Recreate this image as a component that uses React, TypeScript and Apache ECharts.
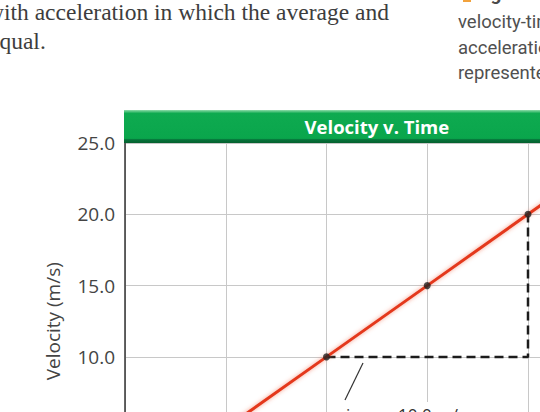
import React, { useEffect, useRef } from "react";
import * as echarts from "echarts";

// Velocity-time data: constant acceleration, v = 5.00 t
const timeS = [0, 1, 2, 3, 4, 5];
const velocityMS = [0, 5, 10, 15, 20, 25];

// Marked points on the line
const markedTime = [2, 3, 4];
const markedVelocity = [10, 15, 20];

// Rise/run triangle (run along v = 10, rise along t = 4)
const triangleTime = [2, 4, 4];
const triangleVelocity = [10, 10, 20];

// Axis settings
const yTicks = [0, 5, 10, 15, 20, 25];
const xTicks = [0, 1, 2, 3, 4, 5];

// Surrounding page text
const bodyLines = ["with acceleration in which the average and", "equal."];
const captionLines = ["velocity-time", "acceleration", "represented"];

const GRID_LEFT = 125;
const GRID_TOP = 143;
const GRID_W = 503.75;
const GRID_H = 356.5;

export default function App() {
  const ref = useRef<HTMLDivElement>(null);

  useEffect(() => {
    if (!ref.current) return;
    const chart = echarts.init(ref.current, undefined, { renderer: "svg" });

    const linePoints = timeS.map((t, i) => [t, velocityMS[i]]);
    const dots = markedTime.map((t, i) => [t, markedVelocity[i]]);
    const tri = triangleTime.map((t, i) => [t, triangleVelocity[i]]);

    const sans = "'Open Sans', 'Noto Sans', sans-serif";

    chart.setOption({
      animation: false,
      backgroundColor: "#ffffff",
      grid: {
        left: GRID_LEFT,
        top: GRID_TOP,
        width: GRID_W,
        height: GRID_H,
        containLabel: false,
      },
      xAxis: {
        type: "value",
        min: xTicks[0],
        max: xTicks[xTicks.length - 1],
        interval: 1,
        axisLine: { show: true, lineStyle: { color: "#333333", width: 1.5 } },
        axisTick: { show: false },
        splitLine: { show: true, lineStyle: { color: "#c8c8c8", width: 1 } },
        axisLabel: {
          fontFamily: sans,
          fontSize: 19,
          color: "#444444",
          margin: 10,
          formatter: (v: number) => v.toFixed(1),
        },
        name: "Time (s)",
        nameLocation: "middle",
        nameGap: 45,
        nameTextStyle: { fontFamily: sans, fontSize: 19, color: "#444444" },
      },
      yAxis: {
        type: "value",
        min: yTicks[0],
        max: yTicks[yTicks.length - 1],
        interval: 5,
        axisLine: { show: true, lineStyle: { color: "#333333", width: 1.5 } },
        axisTick: { show: false },
        splitLine: { show: true, lineStyle: { color: "#c8c8c8", width: 1 } },
        axisLabel: {
          fontFamily: sans,
          fontSize: 19,
          color: "#444444",
          margin: 10,
          formatter: (v: number) => v.toFixed(1),
        },
        name: "Velocity (m/s)",
        nameLocation: "middle",
        nameGap: 63,
        nameTextStyle: { fontFamily: sans, fontSize: 19, color: "#444444" },
      },
      series: [
        {
          type: "line",
          data: linePoints,
          symbol: "none",
          lineStyle: {
            color: "#e4391a",
            width: 3,
            shadowColor: "rgba(240, 100, 70, 0.65)",
            shadowBlur: 4,
          },
          z: 3,
        },
        {
          type: "line",
          data: tri,
          symbol: "none",
          lineStyle: { color: "#1c1c1c", width: 2.5, type: [9, 5] },
          z: 2,
        },
        {
          type: "scatter",
          data: dots,
          symbol: "circle",
          symbolSize: 7,
          itemStyle: { color: "#222222" },
          z: 4,
        },
      ],
      graphic: [
        // title bar
        {
          type: "rect",
          shape: { x: GRID_LEFT - 1, y: 110, width: GRID_W + 2, height: 33 },
          style: {
            fill: new echarts.graphic.LinearGradient(0, 0, 0, 1, [
              { offset: 0, color: "#8fdcaa" },
              { offset: 0.1, color: "#0eaa50" },
              { offset: 0.86, color: "#0aa64c" },
              { offset: 0.9, color: "#06733a" },
              { offset: 1, color: "#05612f" },
            ]),
          },
          z: 20,
        },
        {
          type: "text",
          style: {
            text: "Velocity v. Time",
            x: GRID_LEFT + GRID_W / 2,
            y: 126,
            align: "center",
            verticalAlign: "middle",
            font: `bold 18.5px ${sans}`,
            fill: "#ffffff",
          },
          z: 21,
        },
        // label for the rise
        {
          type: "rect",
          shape: { x: 338, y: 402, width: 132, height: 30 },
          style: { fill: "#ffffff" },
          z: 20,
        },
        {
          type: "line",
          shape: { x1: 363, y1: 363, x2: 345, y2: 400 },
          style: { stroke: "#333333", lineWidth: 1.2 },
          z: 21,
        },
        {
          type: "text",
          style: {
            text: "rise =",
            x: 339,
            y: 414,
            align: "left",
            verticalAlign: "middle",
            font: `17px ${sans}`,
            fill: "#333333",
          },
          z: 21,
        },
        {
          type: "text",
          style: {
            text: "10.0 m/s",
            x: 398,
            y: 414,
            align: "left",
            verticalAlign: "middle",
            font: `17px ${sans}`,
            fill: "#333333",
          },
          z: 21,
        },
        // body text
        ...bodyLines.map((t, i) => ({
          type: "text",
          style: {
            text: t,
            x: i === 0 ? -13 : -11,
            y: 12 + i * 28.5,
            align: "left",
            verticalAlign: "middle",
            font: "23.5px 'Liberation Serif', serif",
            fill: "#3d3d3d",
          },
          z: 21,
        })),
        // figure caption
        {
          type: "rect",
          shape: { x: 463, y: -5, width: 8, height: 7 },
          style: { fill: "#f2a23c" },
          z: 21,
        },
        {
          type: "text",
          style: {
            text: "Figure",
            x: 475,
            y: -7,
            align: "left",
            verticalAlign: "middle",
            font: "bold 19px Roboto, sans-serif",
            fill: "#4a4a4a",
          },
          z: 21,
        },
        ...captionLines.map((t, i) => ({
          type: "text",
          style: {
            text: t,
            x: 458,
            y: 22 + i * 25.5,
            align: "left",
            verticalAlign: "middle",
            font: "18.5px Roboto, sans-serif",
            fill: "#505050",
          },
          z: 21,
        })),
      ],
    });

    return () => chart.dispose();
  }, []);

  return (
    <div
      style={{
        position: "fixed",
        left: 0,
        top: 0,
        width: 540,
        height: 412,
        overflow: "hidden",
        background: "#ffffff",
      }}
    >
      <div ref={ref} style={{ width: 760, height: 600 }} />
    </div>
  );
}
